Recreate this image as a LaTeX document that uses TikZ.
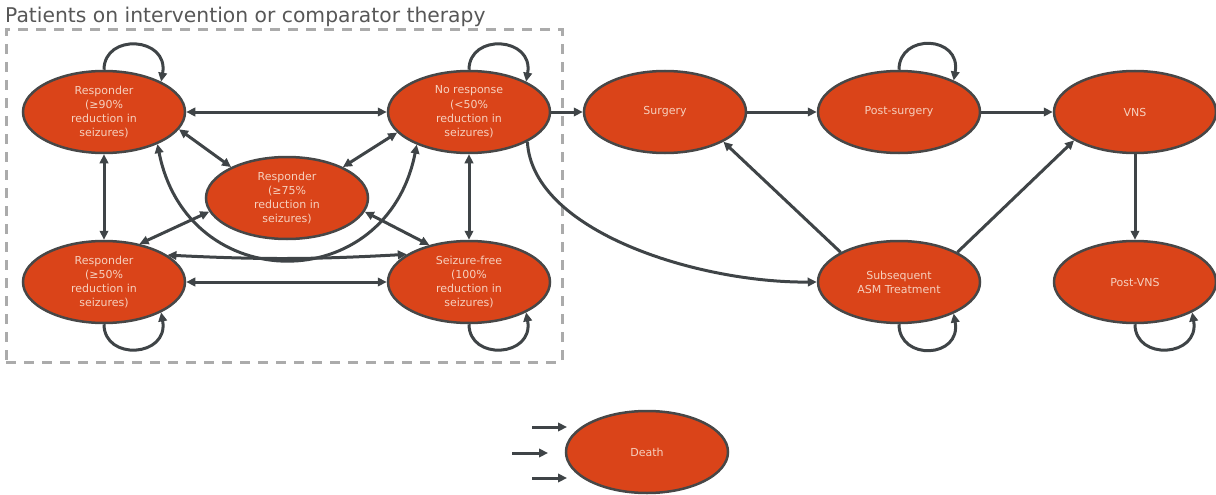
\documentclass[tikz,border=0pt]{standalone}
\usepackage{fontspec}
\setmainfont{DejaVu Sans}
\usetikzlibrary{shapes.geometric,arrows.meta}
\definecolor{nodefill}{HTML}{DA4419}
\definecolor{nodeborder}{HTML}{474747}
\definecolor{nodetext}{HTML}{F6D0BE}
\definecolor{arrowc}{HTML}{3F4447}
\definecolor{boxgray}{HTML}{ABABAB}
\definecolor{titlegray}{HTML}{575757}
\tikzset{
  st/.style={ellipse, draw=nodeborder, line width=2.5pt, fill=nodefill, text=nodetext,
    minimum width=162pt, minimum height=82pt, inner sep=0pt, align=center,
    font=\fontsize{11}{14.2}\selectfont},
  tip/.tip={Triangle[length=9pt,width=8.5pt]},
  ar/.style={draw=arrowc, line width=3pt, -tip},
  dar/.style={draw=arrowc, line width=3pt, tip-tip},
  groupbox/.style={draw=boxgray, line width=3pt, dash pattern=on 10pt off 8pt,
    minimum width=556pt, minimum height=332pt, inner sep=0pt},
}
\begin{document}
\begin{tikzpicture}[x=1pt,y=-1pt]
\useasboundingbox (0,0) rectangle (1216,495);
\node[anchor=base west, inner sep=0pt, text=titlegray, font=\fontsize{20.3}{24}\selectfont] (title) at (5,23) {Patients on intervention or comparator therapy};
\node[groupbox] (group) at (284,196) {};

\node[st] (r90) at (104,112) {Responder\\(≥90\%\\reduction in\\seizures)};
\node[st] (noresp) at (469,112) {No response\\(<50\%\\reduction in\\seizures)};
\node[st] (r75) at (287,198) {Responder\\(≥75\%\\reduction in\\seizures)};
\node[st] (r50) at (104,282) {Responder\\(≥50\%\\reduction in\\seizures)};
\node[st] (sf) at (469,282) {Seizure-free\\(100\%\\reduction in\\seizures)};
\node[st] (surg) at (665,112) {Surgery};
\node[st] (post) at (899,112) {Post-surgery};
\node[st] (vns) at (1135,112) {VNS};
\node[st] (asm) at (899,282) {Subsequent\\ASM Treatment};
\node[st] (pvns) at (1135,282) {Post-VNS};
\node[st] (death) at (647,452) {Death};

% self loops
\draw[ar] (r90.north) .. controls +(0,-37) and +(8,-45) .. (r90.28);
\draw[ar] (noresp.north) .. controls +(0,-37) and +(8,-45) .. (noresp.28);
\draw[ar] (r50.south) .. controls +(0,37) and +(8,45) .. (r50.-28);
\draw[ar] (sf.south) .. controls +(0,37) and +(8,45) .. (sf.-28);
\draw[ar] (post.north) .. controls +(0,-37) and +(8,-45) .. (post.30);
\draw[ar] (asm.south) .. controls +(0,37) and +(8,45) .. (asm.-30);
\draw[ar] (pvns.south) .. controls +(0,37) and +(8,45) .. (pvns.-28);

% within group
\draw[dar] (r90.east) -- (noresp.west);
\draw[dar] (r50.east) -- (sf.west);
\draw[dar] (r90.south) -- (r50.north);
\draw[dar] (noresp.south) -- (sf.north);
\draw[dar] (r90.-13) -- (r75.151);
\draw[dar] (noresp.196) -- (r75.29);
\draw[dar] (r50.47) -- (r75.190);
\draw[dar] (sf.137) -- (r75.-10);
\draw[dar] (r90.-31) .. controls +(30,153) and +(-30,153) .. (noresp.-148);
\draw[dar] (r50.23) to[bend right=3] (sf.156);

% outside
\draw[ar] (noresp.east) -- (surg.west);
\draw[ar] (surg.east) -- (post.west);
\draw[ar] (post.east) -- (vns.west);
\draw[ar] (vns.south) -- (pvns.north);
\draw[ar] (asm.153) -- (surg.-27);
\draw[ar] (asm.27) -- (vns.-155);
\draw[ar] (noresp.-27) .. controls +(5,90) and +(-118,1) .. (asm.west);

% death arrows
\coordinate (d1s) at (532,427); \coordinate (d1e) at (567,427);
\coordinate (d2s) at (512,453); \coordinate (d2e) at (548,453);
\coordinate (d3s) at (532,478); \coordinate (d3e) at (567,478);
\draw[ar] (d1s) -- (d1e);
\draw[ar] (d2s) -- (d2e);
\draw[ar] (d3s) -- (d3e);
\end{tikzpicture}
\end{document}
